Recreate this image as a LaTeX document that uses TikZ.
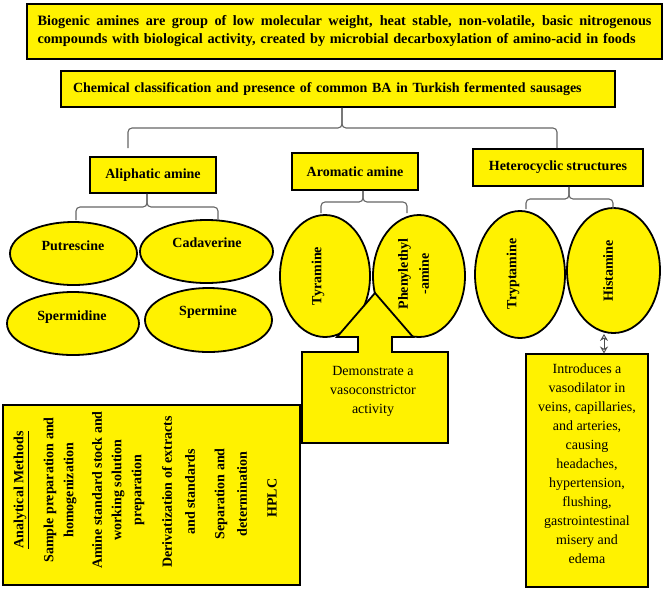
\documentclass[tikz,border=0pt]{standalone}
\usepackage{fontspec}
\setmainfont{Liberation Serif}
\usetikzlibrary{shapes.geometric,arrows.meta}
\begin{document}
\begin{tikzpicture}[x=1pt,y=-1pt,
  box/.style={draw=black,line width=1.8pt,fill=yellow,inner sep=0pt},
  ell/.style={ellipse,draw=black,line width=1.8pt,fill=yellow,inner sep=0pt},
  lbl/.style={font=\bfseries\fontsize{14}{17}\selectfont,inner sep=0pt,align=center},
  plain/.style={font=\fontsize{14}{19}\selectfont,inner sep=0pt,align=center},
  brace/.style={draw=black!60,line width=1.1pt,rounded corners=4pt},
  dbl/.style={draw=black!70,line width=0.9pt,{Stealth[open,length=7pt,width=8pt]}-{Stealth[open,length=7pt,width=8pt]}},
]
\useasboundingbox (0,0) rectangle (666,590);
\fill[white] (0,0) rectangle (666,590);

% top boxes
\node[box, minimum width=635pt, minimum height=55pt, text width=614pt, align=left,
      font=\bfseries\fontsize{14.3}{19}\selectfont] (top) at (344.5,31.5)
  {\makebox[614pt][s]{\spaceskip=0.25em plus 2em Biogenic amines are group of low molecular weight, heat stable, non-volatile, basic nitrogenous}\\[-1pt]compounds with biological activity, created by microbial decarboxylation of amino-acid in foods};

\node[box, minimum width=554pt, minimum height=36pt, text width=530pt, align=left,
      font=\bfseries\fontsize{14}{16}\selectfont] (cls) at (338,89)
  {Chemical classification and presence of common BA in Turkish fermented sausages};

% category boxes
\node[box, lbl, minimum width=126pt, minimum height=36pt] (ali) at (153,175) {Aliphatic amine};
\node[box, lbl, minimum width=126pt, minimum height=37pt] (aro) at (355,171.5) {Aromatic amine};
\node[box, lbl, minimum width=170pt, minimum height=37pt] (het) at (558,167.5) {Heterocyclic structures};

% main brace
\coordinate (mL) at (128,148);
\coordinate (mR) at (557,148);
\draw[brace] (cls.south -| 342,0) -- (342,128) -| (mL);
\draw[brace] (cls.south -| 342,0) -- (342,128) -| (mR);

% aliphatic ellipses
\node[ell, minimum width=127pt, minimum height=63pt] (put) at (73.5,253.5) {};
\node[lbl] (putT) at (73,246) {Putrescine};
\node[ell, minimum width=133pt, minimum height=63pt] (cad) at (206.5,251.5) {};
\node[lbl] (cadT) at (207,243) {Cadaverine};
\node[ell, minimum width=132pt, minimum height=63pt] (spd) at (73,323.5) {};
\node[lbl] (spdT) at (72,317) {Spermidine};
\node[ell, minimum width=127pt, minimum height=64pt] (spm) at (208.5,320) {};
\node[lbl] (spmT) at (208,312) {Spermine};

% aromatic ellipses
\node[ell, minimum width=90pt, minimum height=122pt] (tyr) at (325,276) {};
\node[lbl, rotate=90] (tyrT) at (318,276) {Tyramine};
\node[ell, minimum width=92pt, minimum height=122pt] (phe) at (419,276) {};
\node[lbl, rotate=90, font=\bfseries\fontsize{14}{21}\selectfont] (pheT) at (413.5,274) {Phenylethyl\\-amine};

% heterocyclic ellipses
\node[ell, minimum width=90pt, minimum height=127pt] (try) at (520,274.5) {};
\node[lbl, rotate=90] (tryT) at (513,274) {Tryptamine};
\node[ell, minimum width=93pt, minimum height=125pt] (his) at (613.5,270.5) {};
\node[lbl, rotate=90] (hisT) at (608,271) {Histamine};

% sub braces
\coordinate (aliL) at (76,220);
\coordinate (aliR) at (218,220);
\draw[brace] (ali.south -| 147,0) -- (147,207) -| (aliL);
\draw[brace] (ali.south -| 147,0) -- (147,207) -| (aliR);
\coordinate (aroL) at (321,213);
\coordinate (aroR) at (407,213);
\draw[brace] (aro.south -| 363,0) -- (363,202) -| (aroL);
\draw[brace] (aro.south -| 363,0) -- (363,202) -| (aroR);
\coordinate (hetL) at (526,209);
\coordinate (hetR) at (613,209);
\draw[brace] (het.south -| 569,0) -- (569,199) -| (hetL);
\draw[brace] (het.south -| 569,0) -- (569,199) -| (hetR);

% analytical methods box
\node[box, minimum width=297pt, minimum height=180pt] (anal) at (151.5,495) {};
\node[lbl, rotate=90] (a1) at (21,490) {\underline{Analytical Methods}};
\node[lbl, rotate=90] (a2) at (50,490) {Sample preparation and};
\node[lbl, rotate=90] (a3) at (70,490) {homogenization};
\node[lbl, rotate=90] (a4) at (97,490) {Amine standard stock and};
\node[lbl, rotate=90] (a5) at (118,490) {working solution};
\node[lbl, rotate=90] (a6) at (138,490) {preparation};
\node[lbl, rotate=90] (a7) at (167,492) {Derivatization of extracts};
\node[lbl, rotate=90] (a8) at (190,492) {and standards};
\node[lbl, rotate=90] (a9) at (221,494) {Separation and};
\node[lbl, rotate=90] (a10) at (242,494) {determination};
\node[lbl, rotate=90] (a11) at (272,498) {HPLC};

% vasoconstrictor callout
\filldraw[fill=yellow, draw=black, line width=1.8pt, line join=miter]
  (302,443) -- (302,352) -- (358,352) -- (358,337) -- (337,337) -- (375,293)
  -- (413,337) -- (392,337) -- (392,352) -- (448,352) -- (448,443) -- cycle;
\node[plain] (demo) at (373,391) {Demonstrate a\\vasoconstrictor\\activity};

% vasodilator box
\node[box, minimum width=122pt, minimum height=233pt] (intro) at (587,470.5) {};
\node[plain] (introT) at (587,463.5) {Introduces a\\vasodilator in\\veins, capillaries,\\and arteries,\\causing\\headaches,\\hypertension,\\flushing,\\gastrointestinal\\misery and\\edema};

\coordinate (dA) at (604,353.5);
\draw[dbl] (dA) -- (dA |- his.south);
\end{tikzpicture}
\end{document}
